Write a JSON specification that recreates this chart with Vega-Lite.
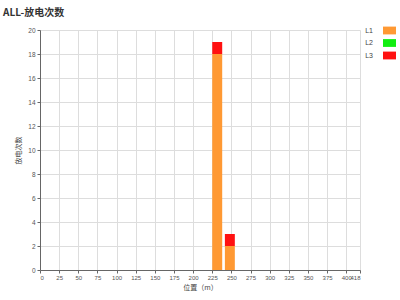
{
  "$schema": "https://vega.github.io/schema/vega-lite/v6.json",
  "width": 320,
  "height": 240,
  "autosize": {"type": "none"},
  "padding": {"left": 40, "top": 30, "right": 40, "bottom": 30},
  "background": "white",
  "title": {
    "text": "ALL-放电次数",
    "anchor": "start",
    "frame": "group",
    "dx": -37,
    "offset": 6,
    "fontSize": 10,
    "font": "Noto Sans CJK SC",
    "fontWeight": "bold",
    "color": "#333333"
  },
  "data": {
    "values": [
      {"start": 225, "end": 238, "phase": "L1", "low": 0, "high": 18},
      {"start": 225, "end": 238, "phase": "L3", "low": 18, "high": 19},
      {"start": 241.5, "end": 254.5, "phase": "L1", "low": 0, "high": 2},
      {"start": 241.5, "end": 254.5, "phase": "L3", "low": 2, "high": 3}
    ]
  },
  "mark": {"type": "rect"},
  "encoding": {
    "x": {
      "field": "start",
      "type": "quantitative",
      "scale": {"domain": [0, 418], "nice": false, "zero": false},
      "axis": {
        "title": "位置（m）",
        "values": [0, 25, 50, 75, 100, 125, 150, 175, 200, 225, 250, 275, 300, 325, 350, 375, 400, 418],
        "labelOverlap": false,
        "labelFont": "Liberation Sans",
        "labelFontSize": 6,
        "labelColor": "#555555",
        "titleFontSize": 7,
        "titleFont": "Noto Sans CJK SC",
        "titleFontWeight": "normal",
        "titleColor": "#444444",
        "titlePadding": 3,
        "domainColor": "#666666",
        "tickColor": "#666666",
        "tickSize": 3,
        "gridColor": "#dddddd",
        "labelPadding": 1
      }
    },
    "x2": {"field": "end"},
    "y": {
      "field": "low",
      "type": "quantitative",
      "scale": {"domain": [0, 20], "nice": false},
      "axis": {
        "title": "放电次数",
        "values": [0, 2, 4, 6, 8, 10, 12, 14, 16, 18, 20],
        "labelFont": "Liberation Sans",
        "labelFontSize": 6.5,
        "labelColor": "#555555",
        "titleFontSize": 7,
        "titleFont": "Noto Sans CJK SC",
        "titleFontWeight": "normal",
        "titleColor": "#444444",
        "titlePadding": 6,
        "domainColor": "#666666",
        "tickColor": "#666666",
        "tickSize": 3,
        "gridColor": "#dddddd",
        "labelPadding": 2
      }
    },
    "y2": {"field": "high"},
    "color": {
      "field": "phase",
      "type": "nominal",
      "scale": {"domain": ["L1", "L2", "L3"], "range": ["#ff9933", "#11ee11", "#ff1111"]},
      "legend": {
        "title": null,
        "orient": "none",
        "legendX": 343,
        "legendY": -6,
        "symbolType": "M-1,-0.6H1V0.6H-1Z",
        "symbolSize": 169,
        "symbolStrokeWidth": 0,
        "symbolOpacity": 1,
        "labelAlign": "right",
        "labelOffset": -23,
        "labelFont": "Liberation Sans",
        "labelFontSize": 7,
        "labelColor": "#444444",
        "rowPadding": 1.5
      }
    }
  },
  "config": {"view": {"stroke": null}, "font": "DejaVu Sans"}
}
